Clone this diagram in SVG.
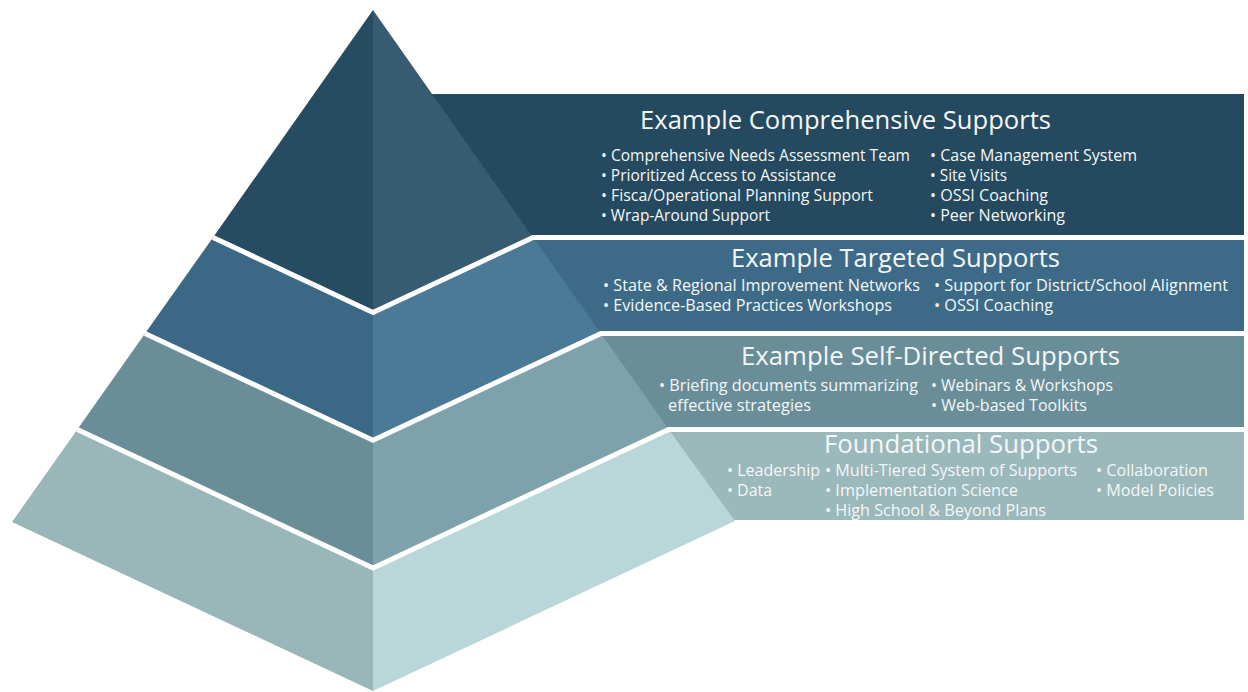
<svg xmlns="http://www.w3.org/2000/svg" width="1248" height="692" viewBox="0 0 1248 692">
<style>
.t{font-family:"Open Sans","Noto Sans","Liberation Sans",sans-serif;fill:#f4f7f8;font-size:26px}
.i{font-family:"Open Sans","Noto Sans","Liberation Sans",sans-serif;fill:#f4f7f8;font-size:16px}
.sep{fill:none;stroke:#ffffff;stroke-width:5;stroke-linejoin:miter}
</style>
<rect width="1248" height="692" fill="#ffffff"/>
<g id="bands">
<rect x="400" y="94" width="844" height="141" fill="#25495e"/>
<rect x="400" y="240" width="844" height="91" fill="#3d6b87"/>
<rect x="400" y="336" width="844" height="91" fill="#6a8e98"/>
<rect x="400" y="432" width="844" height="88" fill="#9bb8bb"/>
</g>
<g id="pyramid">
<polygon points="373,10 213,237.5 373,312.4" fill="#264c62"/>
<polygon points="373,10 533,237.5 373,312.4" fill="#375b70"/>
<polygon points="213,237.5 373,312.4 373,440.2 145,333.5" fill="#3b6884"/>
<polygon points="533,237.5 373,312.4 373,440.2 601,333.5" fill="#4a7a95"/>
<polygon points="145,333.5 373,440.2 373,567.9 77.3,429.5" fill="#6a8e98"/>
<polygon points="601,333.5 373,440.2 373,567.9 668.7,429.5" fill="#7ea2ab"/>
<polygon points="77.3,429.5 373,567.9 373,691 12,522" fill="#99b6b9"/>
<polygon points="668.7,429.5 373,567.9 373,691 735,521" fill="#b9d6d9"/>
</g>
<g id="separators">
<polyline class="sep" points="213,237.5 373,312.4 533,237.5 545,237.5"/>
<polyline class="sep" points="145,333.5 373,440.2 601,333.5 612,333.5"/>
<polyline class="sep" points="77.3,429.5 373,567.9 668.7,429.5 680,429.5"/>
</g>
<g id="comprehensive">
<text class="t" x="640" y="129" textLength="411" lengthAdjust="spacingAndGlyphs">Example Comprehensive Supports</text>
<text class="i" x="601" y="161" textLength="309" lengthAdjust="spacingAndGlyphs">• Comprehensive Needs Assessment Team</text>
<text class="i" x="601" y="181" textLength="235" lengthAdjust="spacingAndGlyphs">• Prioritized Access to Assistance</text>
<text class="i" x="601" y="201" textLength="272" lengthAdjust="spacingAndGlyphs">• Fisca/Operational Planning Support</text>
<text class="i" x="601" y="221" textLength="169" lengthAdjust="spacingAndGlyphs">• Wrap-Around Support</text>
<text class="i" x="930" y="161" textLength="207" lengthAdjust="spacingAndGlyphs">• Case Management System</text>
<text class="i" x="930" y="181" textLength="77" lengthAdjust="spacingAndGlyphs">• Site Visits</text>
<text class="i" x="930" y="201" textLength="118" lengthAdjust="spacingAndGlyphs">• OSSI Coaching</text>
<text class="i" x="930" y="221" textLength="135" lengthAdjust="spacingAndGlyphs">• Peer Networking</text>
</g>
<g id="targeted">
<text class="t" x="731" y="267" textLength="329" lengthAdjust="spacingAndGlyphs">Example Targeted Supports</text>
<text class="i" x="603" y="291" textLength="317" lengthAdjust="spacingAndGlyphs">• State &amp; Regional Improvement Networks</text>
<text class="i" x="603" y="311" textLength="289" lengthAdjust="spacingAndGlyphs">• Evidence-Based Practices Workshops</text>
<text class="i" x="934" y="291" textLength="294" lengthAdjust="spacingAndGlyphs">• Support for District/School Alignment</text>
<text class="i" x="934" y="311" textLength="119" lengthAdjust="spacingAndGlyphs">• OSSI Coaching</text>
</g>
<g id="self-directed">
<text class="t" x="741" y="365" textLength="379" lengthAdjust="spacingAndGlyphs">Example Self-Directed Supports</text>
<text class="i" x="659" y="391" textLength="259" lengthAdjust="spacingAndGlyphs">• Briefing documents summarizing</text>
<text class="i" x="668" y="411" textLength="143" lengthAdjust="spacingAndGlyphs">effective strategies</text>
<text class="i" x="931" y="391" textLength="182" lengthAdjust="spacingAndGlyphs">• Webinars &amp; Workshops</text>
<text class="i" x="931" y="411" textLength="156" lengthAdjust="spacingAndGlyphs">• Web-based Toolkits</text>
</g>
<g id="foundational">
<text class="t" x="824" y="453" textLength="274" lengthAdjust="spacingAndGlyphs">Foundational Supports</text>
<text class="i" x="727" y="476" textLength="93" lengthAdjust="spacingAndGlyphs">• Leadership</text>
<text class="i" x="727" y="496" textLength="45" lengthAdjust="spacingAndGlyphs">• Data</text>
<text class="i" x="825" y="476" textLength="252" lengthAdjust="spacingAndGlyphs">• Multi-Tiered System of Supports</text>
<text class="i" x="825" y="496" textLength="193" lengthAdjust="spacingAndGlyphs">• Implementation Science</text>
<text class="i" x="825" y="516" textLength="221" lengthAdjust="spacingAndGlyphs">• High School &amp; Beyond Plans</text>
<text class="i" x="1096" y="476" textLength="112" lengthAdjust="spacingAndGlyphs">• Collaboration</text>
<text class="i" x="1096" y="496" textLength="118" lengthAdjust="spacingAndGlyphs">• Model Policies</text>
</g>
</svg>
